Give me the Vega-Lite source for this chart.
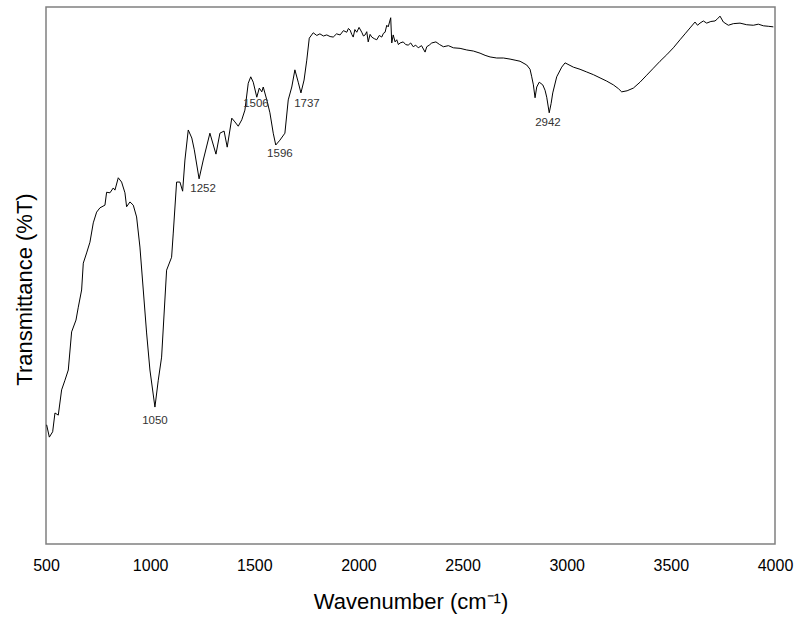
{
  "$schema": "https://vega.github.io/schema/vega-lite/v6.json",
  "width": 729,
  "height": 537,
  "autosize": {"type": "none"},
  "padding": {"left": 46, "top": 7, "right": 23, "bottom": 79},
  "background": "white",
  "config": {
    "view": {"stroke": "#808080", "strokeWidth": 1.5},
    "font": "Liberation Sans"
  },
  "datasets": {
    "spectrum": [
      {"wn": 503, "t": 22.2}, {"wn": 516, "t": 19.9}, {"wn": 532, "t": 20.9}, {"wn": 543, "t": 24.4},
      {"wn": 559, "t": 24.0}, {"wn": 575, "t": 28.7}, {"wn": 591, "t": 30.5}, {"wn": 607, "t": 32.4},
      {"wn": 623, "t": 39.5}, {"wn": 644, "t": 41.7}, {"wn": 655, "t": 44.1}, {"wn": 671, "t": 47.3},
      {"wn": 679, "t": 52.3}, {"wn": 695, "t": 54.2}, {"wn": 711, "t": 56.2}, {"wn": 727, "t": 59.8},
      {"wn": 743, "t": 61.8}, {"wn": 759, "t": 62.6}, {"wn": 783, "t": 63.1}, {"wn": 791, "t": 65.5},
      {"wn": 807, "t": 65.4}, {"wn": 823, "t": 66.3}, {"wn": 831, "t": 65.9}, {"wn": 847, "t": 68.2},
      {"wn": 863, "t": 67.4}, {"wn": 879, "t": 65.4}, {"wn": 887, "t": 62.8}, {"wn": 903, "t": 63.7},
      {"wn": 919, "t": 63.1}, {"wn": 935, "t": 60.9}, {"wn": 951, "t": 55.3}, {"wn": 967, "t": 47.3},
      {"wn": 983, "t": 39.3}, {"wn": 999, "t": 32.4}, {"wn": 1023, "t": 25.5}, {"wn": 1039, "t": 30.5},
      {"wn": 1055, "t": 34.8}, {"wn": 1079, "t": 51.0}, {"wn": 1103, "t": 53.4}, {"wn": 1111, "t": 57.9},
      {"wn": 1127, "t": 67.4}, {"wn": 1143, "t": 67.4}, {"wn": 1156, "t": 65.7}, {"wn": 1167, "t": 71.5},
      {"wn": 1183, "t": 77.1}, {"wn": 1200, "t": 75.6}, {"wn": 1212, "t": 73.4}, {"wn": 1235, "t": 68.0},
      {"wn": 1255, "t": 71.5}, {"wn": 1287, "t": 76.5}, {"wn": 1316, "t": 72.6}, {"wn": 1335, "t": 76.5},
      {"wn": 1355, "t": 76.9}, {"wn": 1370, "t": 73.9}, {"wn": 1392, "t": 79.3}, {"wn": 1407, "t": 78.6},
      {"wn": 1423, "t": 77.8}, {"wn": 1440, "t": 79.0}, {"wn": 1455, "t": 80.8}, {"wn": 1471, "t": 85.8},
      {"wn": 1483, "t": 87.0}, {"wn": 1495, "t": 86.0}, {"wn": 1512, "t": 83.2}, {"wn": 1524, "t": 84.9},
      {"wn": 1536, "t": 84.2}, {"wn": 1543, "t": 85.1}, {"wn": 1560, "t": 82.7}, {"wn": 1575, "t": 80.3},
      {"wn": 1591, "t": 76.5}, {"wn": 1603, "t": 74.3}, {"wn": 1623, "t": 75.2}, {"wn": 1647, "t": 76.5},
      {"wn": 1663, "t": 82.7}, {"wn": 1680, "t": 85.1}, {"wn": 1695, "t": 88.3}, {"wn": 1711, "t": 86.0},
      {"wn": 1724, "t": 84.0}, {"wn": 1739, "t": 86.4}, {"wn": 1752, "t": 90.1}, {"wn": 1764, "t": 94.2},
      {"wn": 1783, "t": 95.2}, {"wn": 1800, "t": 94.7}, {"wn": 1815, "t": 95.0}, {"wn": 1832, "t": 94.6},
      {"wn": 1848, "t": 94.8}, {"wn": 1864, "t": 94.5}, {"wn": 1879, "t": 94.4}, {"wn": 1895, "t": 95.0},
      {"wn": 1912, "t": 94.8}, {"wn": 1928, "t": 95.6}, {"wn": 1944, "t": 95.3}, {"wn": 1952, "t": 96.0},
      {"wn": 1960, "t": 95.7}, {"wn": 1968, "t": 94.9}, {"wn": 1975, "t": 94.4}, {"wn": 1983, "t": 95.8},
      {"wn": 1992, "t": 95.3}, {"wn": 2003, "t": 96.2}, {"wn": 2016, "t": 95.3}, {"wn": 2024, "t": 94.6},
      {"wn": 2032, "t": 94.8}, {"wn": 2040, "t": 95.4}, {"wn": 2047, "t": 93.5}, {"wn": 2056, "t": 94.9},
      {"wn": 2064, "t": 94.4}, {"wn": 2076, "t": 94.1}, {"wn": 2088, "t": 93.9}, {"wn": 2100, "t": 94.7},
      {"wn": 2112, "t": 94.4}, {"wn": 2120, "t": 95.1}, {"wn": 2128, "t": 95.3}, {"wn": 2136, "t": 96.6},
      {"wn": 2143, "t": 96.3}, {"wn": 2155, "t": 98.0}, {"wn": 2160, "t": 93.3}, {"wn": 2167, "t": 94.8},
      {"wn": 2176, "t": 93.5}, {"wn": 2184, "t": 93.9}, {"wn": 2192, "t": 93.0}, {"wn": 2200, "t": 93.3},
      {"wn": 2215, "t": 93.5}, {"wn": 2227, "t": 93.0}, {"wn": 2239, "t": 92.9}, {"wn": 2251, "t": 93.3},
      {"wn": 2263, "t": 92.6}, {"wn": 2275, "t": 92.9}, {"wn": 2287, "t": 92.4}, {"wn": 2303, "t": 92.8},
      {"wn": 2320, "t": 91.6}, {"wn": 2328, "t": 92.6}, {"wn": 2340, "t": 92.9}, {"wn": 2352, "t": 93.3},
      {"wn": 2372, "t": 93.5}, {"wn": 2390, "t": 93.0}, {"wn": 2408, "t": 92.6}, {"wn": 2432, "t": 92.8},
      {"wn": 2456, "t": 92.4}, {"wn": 2488, "t": 92.3}, {"wn": 2520, "t": 92.0}, {"wn": 2552, "t": 91.8},
      {"wn": 2584, "t": 91.4}, {"wn": 2608, "t": 91.0}, {"wn": 2632, "t": 90.7}, {"wn": 2664, "t": 90.5},
      {"wn": 2696, "t": 90.5}, {"wn": 2728, "t": 90.3}, {"wn": 2752, "t": 90.1}, {"wn": 2776, "t": 89.9},
      {"wn": 2808, "t": 89.2}, {"wn": 2824, "t": 88.4}, {"wn": 2832, "t": 87.0}, {"wn": 2840, "t": 85.5},
      {"wn": 2848, "t": 83.1}, {"wn": 2856, "t": 85.1}, {"wn": 2868, "t": 86.0}, {"wn": 2885, "t": 85.5},
      {"wn": 2896, "t": 84.5}, {"wn": 2904, "t": 83.2}, {"wn": 2916, "t": 80.3}, {"wn": 2925, "t": 82.0},
      {"wn": 2933, "t": 84.0}, {"wn": 2952, "t": 87.0}, {"wn": 2976, "t": 88.8}, {"wn": 2992, "t": 89.6},
      {"wn": 3032, "t": 88.8}, {"wn": 3064, "t": 88.4}, {"wn": 3096, "t": 87.9}, {"wn": 3128, "t": 87.4},
      {"wn": 3160, "t": 86.8}, {"wn": 3192, "t": 86.2}, {"wn": 3224, "t": 85.5}, {"wn": 3248, "t": 84.8},
      {"wn": 3264, "t": 84.2}, {"wn": 3290, "t": 84.4}, {"wn": 3320, "t": 84.9}, {"wn": 3352, "t": 86.0},
      {"wn": 3384, "t": 87.3}, {"wn": 3416, "t": 88.6}, {"wn": 3448, "t": 89.9}, {"wn": 3480, "t": 91.1},
      {"wn": 3512, "t": 92.4}, {"wn": 3544, "t": 93.9}, {"wn": 3568, "t": 95.0}, {"wn": 3592, "t": 96.1},
      {"wn": 3616, "t": 97.2}, {"wn": 3628, "t": 96.6}, {"wn": 3640, "t": 97.0}, {"wn": 3656, "t": 97.4},
      {"wn": 3672, "t": 97.0}, {"wn": 3692, "t": 97.3}, {"wn": 3712, "t": 97.4}, {"wn": 3724, "t": 97.8},
      {"wn": 3736, "t": 98.3}, {"wn": 3752, "t": 97.2}, {"wn": 3776, "t": 96.6}, {"wn": 3800, "t": 96.9},
      {"wn": 3832, "t": 97.0}, {"wn": 3864, "t": 96.7}, {"wn": 3896, "t": 96.6}, {"wn": 3920, "t": 96.8},
      {"wn": 3944, "t": 96.5}, {"wn": 3970, "t": 96.4}, {"wn": 3992, "t": 96.3}
    ],
    "peaks": [
      {"label": "1050", "wn": 1023, "t": 22.9},
      {"label": "1252", "wn": 1254, "t": 66.1},
      {"label": "1506", "wn": 1508, "t": 81.9},
      {"label": "1596", "wn": 1623, "t": 72.6},
      {"label": "1737", "wn": 1753, "t": 81.9},
      {"label": "2942", "wn": 2910, "t": 78.4}
    ]
  },
  "layer": [
    {
      "data": {"name": "spectrum"},
      "mark": {"type": "line", "color": "black", "strokeWidth": 1, "interpolate": "linear"},
      "encoding": {
        "x": {
          "field": "wn", "type": "quantitative",
          "scale": {"domain": [500, 4000], "nice": false, "zero": false},
          "axis": {
            "title": "Wavenumber (cm⁻¹)",
            "values": [500, 1000, 1500, 2000, 2500, 3000, 3500, 4000],
            "format": "d",
            "grid": false, "domain": false, "ticks": false, "tickSize": 0,
            "labelPadding": 13, "labelFlush": false, "labelFontSize": 16, "labelColor": "black",
            "labelFont": "Liberation Sans",
            "titleFont": "Liberation Sans", "titleFontSize": 22, "titleFontWeight": "normal",
            "titleColor": "black", "titlePadding": 18
          }
        },
        "y": {
          "field": "t", "type": "quantitative",
          "scale": {"domain": [0, 100], "nice": false, "zero": false},
          "axis": {
            "title": "Transmittance (%T)",
            "grid": false, "domain": false, "ticks": false, "labels": false, "tickSize": 0,
            "titleFont": "Liberation Sans", "titleFontSize": 22, "titleFontWeight": "normal",
            "titleColor": "black", "titlePadding": 10, "titleY": 282
          }
        }
      }
    },
    {
      "data": {"name": "peaks"},
      "mark": {"type": "text", "fontSize": 11.5, "color": "#333333", "align": "center", "baseline": "middle", "font": "Liberation Sans"},
      "encoding": {
        "x": {"field": "wn", "type": "quantitative"},
        "y": {"field": "t", "type": "quantitative"},
        "text": {"field": "label"}
      }
    }
  ]
}
